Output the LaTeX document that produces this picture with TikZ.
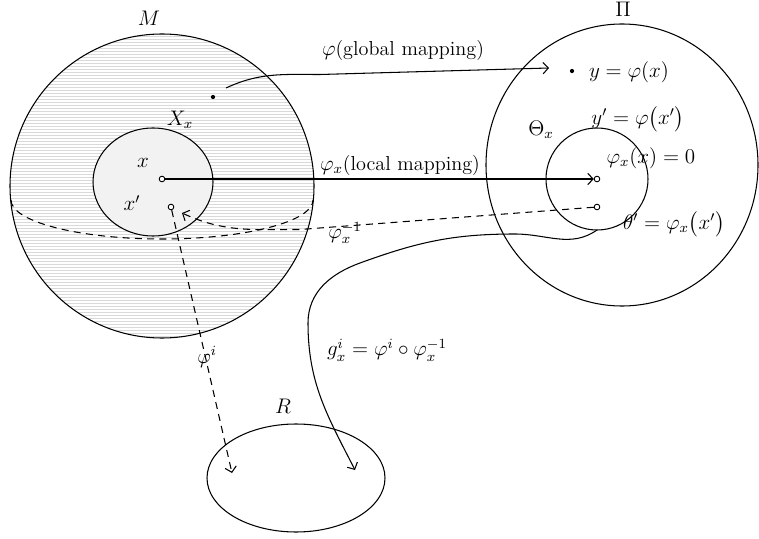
\documentclass[tikz,border=0pt]{standalone}
\usepackage{amsmath}
\usetikzlibrary{shapes.geometric,arrows.meta}
\tikzset{
  opt/.style={draw, circle, fill=white, inner sep=0pt, minimum size=3.2pt, line width=0.5pt},
  dot/.style={circle, fill=black, inner sep=0pt, minimum size=2.4pt},
  dsh/.style={dash pattern=on 4pt off 3pt},
}
\begin{document}
\begin{tikzpicture}[>={Straight Barb[length=3pt,width=6.5pt]}, line width=0.6pt, font=\fontsize{11.5}{13}\selectfont]
\useasboundingbox (0,0) rectangle (15.18,10.76);
% hatched manifold M
\begin{scope}
\clip (3.24,7.04) circle (3.04);
\foreach \yy in {3.98,4.04,...,10.12}
  \draw[gray!30, line width=0.3pt] (0,\yy) -- (6.4,\yy);
\end{scope}
\node[draw, circle, minimum size=6.08cm, inner sep=0pt] (M) at (3.24,7.04) {};
\draw[dsh] (0.22,6.76) arc[start angle=180, end angle=360, x radius=3.02, y radius=0.78];
\node[draw, ellipse, fill=gray!10, minimum width=2.4cm, minimum height=2.16cm] (Xx) at (3.06,7.12) {};
\node (lM) at (2.98,10.4) {$M$};
\node (lXx) at (3.6,8.36) {$X_x$};
\node (lx) at (2.86,7.5) {$x$};
\node (lxp) at (2.64,6.7) {$x'$};
% target space Pi
\node[draw, ellipse, minimum width=5.44cm, minimum height=5.64cm] (Pi) at (12.44,7.46) {};
\node[draw, circle, minimum size=2.04cm, inner sep=0pt] (Theta) at (11.94,7.18) {};
\node (lPi) at (12.46,10.58) {$\Pi$};
\node (lTheta) at (10.82,8.16) {$\Theta_x$};
\node (ly) at (12.58,9.32) {$y = \varphi(x)$};
\node (lyp) at (12.76,8.38) {$y' = \varphi\bigl(x'\bigr)$};
\node (lzero) at (13.02,7.6) {$\varphi_x(x) = 0$};
\node (ltp) at (13.48,6.28) {$\theta' = \varphi_x\bigl(x'\bigr)$};
% region R
\node[draw, ellipse, minimum width=3.56cm, minimum height=2.16cm] (R) at (5.92,1.2) {};
\node (lR) at (5.66,2.64) {$R$};
% points
\node[opt] (px) at (3.24,7.18) {};
\node[opt] (pxp) at (3.42,6.62) {};
\node[dot] (pg) at (4.26,8.82) {};
\node[dot] (py) at (11.44,9.34) {};
\node[opt] (pl) at (11.94,7.18) {};
\node[opt] (ptp) at (11.94,6.62) {};
% mappings
\coordinate (glob1) at (4.52,9.0);
\coordinate (globm) at (6.4,9.27);
\coordinate (glob2) at (10.98,9.4);
\draw[->] (glob1) to[out=25,in=180] (globm) -- (glob2);
\node (lglob) at (8.06,9.76) {$\varphi$(global mapping)};
\draw[->] (px) -- (pl);
\node (lloc) at (8.0,7.46) {$\varphi_x$(local mapping)};
\coordinate (invm) at (6.0,6.17);
\coordinate (inv) at (3.64,6.5);
\draw[->, dsh] (ptp) -- (invm) to[out=180,in=-25] (inv);
\node (linv) at (6.9,6.1) {$\varphi_x^{-1}$};
\coordinate (phii) at (4.64,1.3);
\draw[->, dsh] (pxp) -- (phii);
\node (lphii) at (4.14,3.62) {$\varphi^i$};
\coordinate (comp1) at (11.94,6.16);
\coordinate (comp2) at (7.1,1.36);
\draw[->] (comp1) to[out=215,in=0] (10.3,6.08) to[out=180,in=20] (7.2,5.5)
  to[out=200,in=90] (6.16,4.3) to[out=-90,in=117] (comp2);
\node (lcomp) at (7.74,3.76) {$g_x^i = \varphi^i \circ \varphi_x^{-1}$};
\end{tikzpicture}
\end{document}
